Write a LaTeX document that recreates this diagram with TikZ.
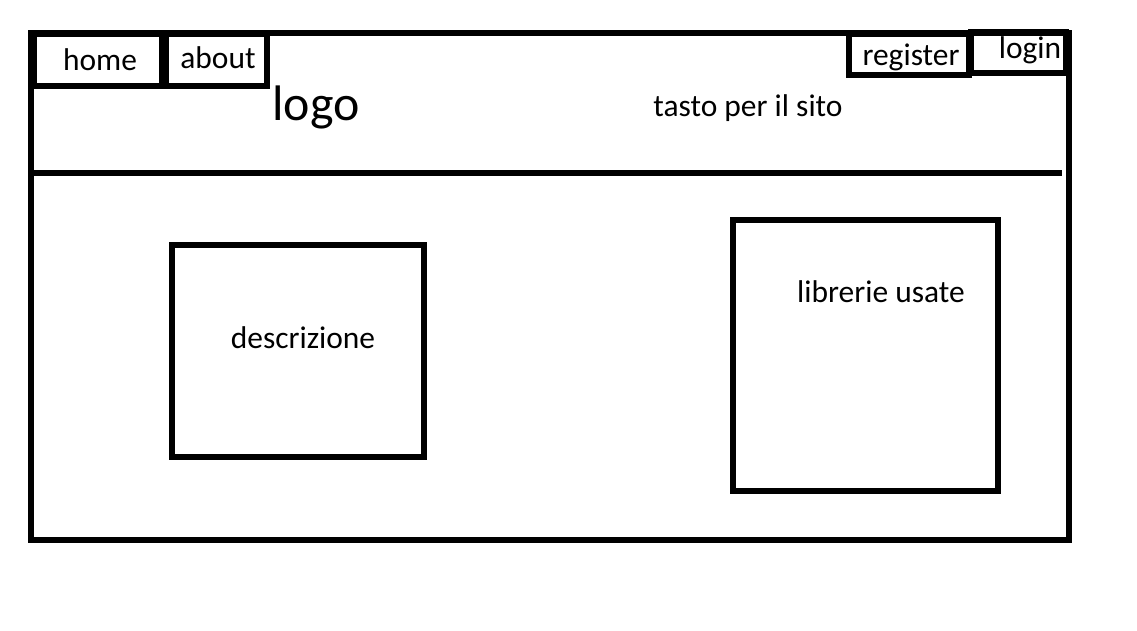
\documentclass[tikz,border=0pt]{standalone}
\usepackage{fontspec}
\setmainfont{Carlito}
\usetikzlibrary{positioning}

\tikzset{
  wire/.style={line width=3.1pt},
  wtext/.style={anchor=base,inner sep=0pt,font=\fontsize{17.9}{20}\selectfont},
  logotext/.style={anchor=base,inner sep=0pt,font=\fontsize{28.4}{32}\selectfont}
}

\begin{document}
\begin{tikzpicture}[x=0.02cm,y=-0.02cm]
\useasboundingbox (0,0) rectangle (1137,630);
% page frame and header divider
\draw[wire] (31,33) rectangle (1069,540);
\draw[wire] (28,173) -- (1062,173);
% menu buttons
\foreach \xa/\ya/\xb/\yb in {34/34/162/86,166/34/267/86,849/34/969/75,971/32/1066/73}
  \draw[wire] (\xa,\ya) rectangle (\xb,\yb);
% content boxes
\draw[wire] (172,245) rectangle (424,457);
\draw[wire] (733,220) rectangle (998,491);
% texts
\node[wtext] (home) at (100,70) {home};
\node[wtext] (about) at (218,68) {about};
\node[wtext] (register) at (911,65) {register};
\node[wtext] (login) at (1030,58) {login};
\node[logotext] (logo) at (316,120) {logo};
\node[wtext] (tasto) at (748,116) {tasto per il sito};
\node[wtext] (descr) at (303,348) {descrizione};
\node[wtext] (librerie) at (881,302) {librerie usate};
\end{tikzpicture}
\end{document}
